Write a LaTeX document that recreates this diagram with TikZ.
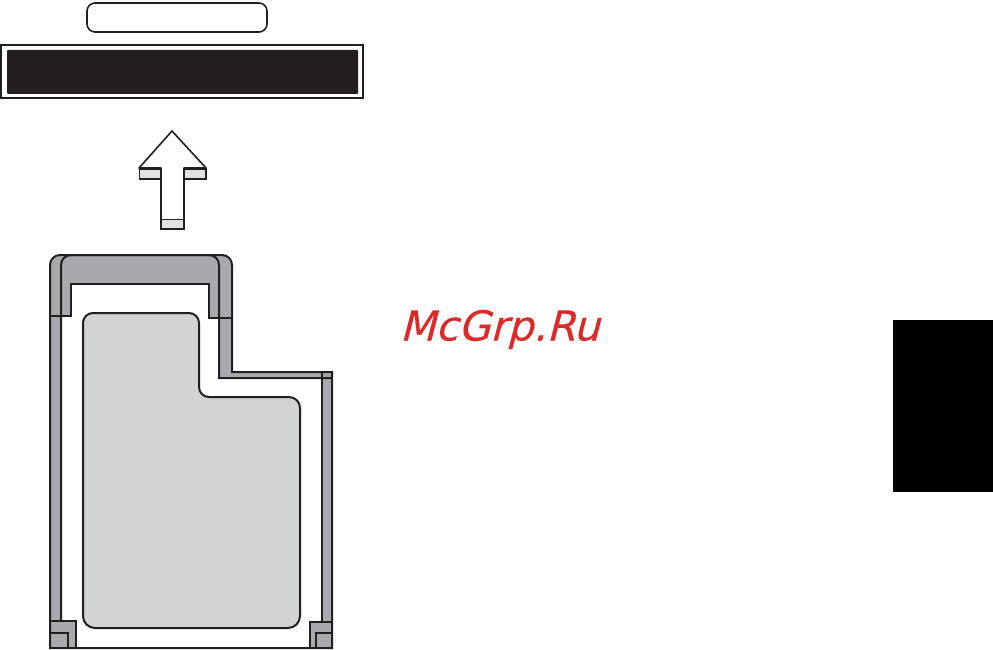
\documentclass[tikz,border=0pt]{standalone}
\usepackage{fontspec}
\setmainfont{DejaVu Sans}
\newfontfamily\markfont[FakeSlant=0.26,FakeBold=0.25]{DejaVu Sans}
\definecolor{ink}{HTML}{231F20}
\definecolor{cardgrey}{HTML}{A7A9AC}
\definecolor{panelgrey}{HTML}{D1D3D4}
\definecolor{tabgrey}{HTML}{E1E3E2}
\definecolor{mark}{HTML}{DA2A2A}
\tikzset{
  outline/.style={draw=ink,line width=2pt,line join=miter},
  thinline/.style={draw=ink,line width=1.6pt},
  greypart/.style={outline,fill=cardgrey},
  tabpart/.style={thinline,fill=tabgrey},
}
\begin{document}
\begin{tikzpicture}[x=1pt,y=-1pt]
\useasboundingbox (0,0) rectangle (993,650);
% slot
\draw[thinline,fill=white,rounded corners=8pt] (87,3) rectangle (267,32);
\draw[outline,fill=white] (1,45) rectangle (362.5,98);
\fill[ink,rounded corners=1pt] (7,50) rectangle (358,94);
% arrow
\draw[thinline,fill=white,line join=round] (172,131) -- (139,168) -- (161,168) -- (161,229) -- (184,229) -- (184,168) -- (206,168) -- cycle;
\draw[tabpart] (139.5,169) rectangle (161,179);
\draw[tabpart] (184,169) rectangle (206,179);
\draw[tabpart] (161,219.5) rectangle (184,229);
% card: grey frame behind
\fill[cardgrey] (50,648) -- (50,265) arc[start angle=180,end angle=270,radius=10] -- (222,255) arc[start angle=270,end angle=360,radius=10] -- (232,372) -- (332,372) -- (332,648) -- cycle;
\fill[white] (61,648) -- (61,316) -- (71,316) -- (71,284) -- (209,284) -- (209,317) -- (219,317) -- (219,378) -- (322,378) -- (322,648) -- cycle;
% corner blocks
\fill[cardgrey] (50,621) rectangle (76,648);
\fill[cardgrey] (310,622) rectangle (332,648);
% card outlines
\draw[outline] (50,316) -- (50,265) arc[start angle=180,end angle=270,radius=10] -- (222,255) arc[start angle=270,end angle=360,radius=10] -- (232,372) -- (332,372) -- (332,648) -- (50,648) -- (50,316);
\draw[outline] (61,621) -- (61,265) arc[start angle=180,end angle=270,radius=10] -- (209,255) arc[start angle=270,end angle=360,radius=10] -- (219,378) -- (332,378);
\draw[outline] (322,372) -- (322,622);
\draw[outline] (50,316) -- (71,316) -- (71,284) -- (209,284) -- (209,317.5) -- (232,317.5);
\draw[outline] (50,621) -- (76,621) -- (76,648);
\draw[outline] (50,633) -- (68,633) -- (68,648);
\draw[outline] (332,622) -- (310,622) -- (310,648);
\draw[outline] (332,633) -- (316,633) -- (316,648);
% inner panel
\draw[outline,fill=panelgrey] (93,313) -- (189,313) arc[start angle=270,end angle=360,radius=10] -- (199,387) arc[start angle=180,end angle=90,radius=10] -- (289,397) arc[start angle=270,end angle=360,radius=11] -- (300,616) arc[start angle=0,end angle=90,radius=12] -- (95,628) arc[start angle=90,end angle=180,radius=12] -- (83,323) arc[start angle=180,end angle=270,radius=10] -- cycle;
% side tab
\fill[black] (893,320) rectangle (993,492);
% watermark
\node (wm) [anchor=base west,inner sep=0pt,text=mark,font=\markfont\fontsize{41.3}{41.3}\selectfont] at (399.5,340.5) {McGrp.Ru};
\end{tikzpicture}
\end{document}
